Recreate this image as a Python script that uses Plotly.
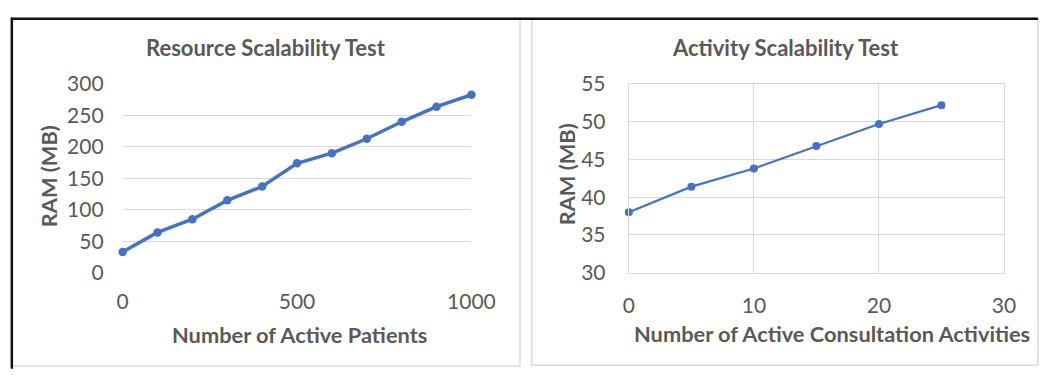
import plotly.graph_objects as go

# Resource scalability: RAM vs number of active patients
patients = [0, 100, 200, 300, 400, 500, 600, 700, 800, 900, 1000]
ram_patients = [33, 64, 85, 115, 137, 174, 190, 213, 240, 264, 283]

# Activity scalability: RAM vs number of active consultation activities
activities = [0, 5, 10, 15, 20, 25]
ram_activities = [38.0, 41.4, 43.8, 46.8, 49.7, 52.2]

W, H = 1060, 378
FONT = "Lato"
TEXT = "#595959"
GRID = "#d9d9d9"
BLUE = "#4472C4"


def px_x(p):
    return p / W


def px_y(p):
    return 1 - p / H


fig = go.Figure()

fig.add_trace(go.Scatter(
    x=patients, y=ram_patients, mode="lines+markers",
    line=dict(color=BLUE, width=3.5), marker=dict(color=BLUE, size=8.5),
    xaxis="x", yaxis="y", showlegend=False, cliponaxis=False,
))
fig.add_trace(go.Scatter(
    x=activities, y=ram_activities, mode="lines+markers",
    line=dict(color=BLUE, width=2.2), marker=dict(color=BLUE, size=8),
    xaxis="x2", yaxis="y2", showlegend=False, cliponaxis=False,
))

tick_font = dict(family=FONT, size=21, color=TEXT)
ydom = [px_y(277), px_y(75)]

fig.update_layout(
    width=W, height=H, autosize=False,
    margin=dict(l=0, r=0, t=0, b=0),
    paper_bgcolor="white", plot_bgcolor="white",
    xaxis=dict(domain=[px_x(120), px_x(479)], range=[0, 1000], dtick=500,
               showgrid=False, zeroline=False, showline=False,
               tickfont=tick_font, ticklabelstandoff=14, anchor="y"),
    yaxis=dict(domain=ydom, range=[0, 300], dtick=50,
               showgrid=True, gridcolor=GRID, gridwidth=1.3, zeroline=False,
               showline=False, tickfont=tick_font, ticklabelstandoff=18,
               anchor="x"),
    xaxis2=dict(domain=[px_x(641), px_x(1027)], range=[0, 30], dtick=10,
                showgrid=True, gridcolor=GRID, gridwidth=1.3, zeroline=False,
                showline=True, linecolor=GRID, linewidth=1.3, mirror=True,
                tickfont=tick_font, ticklabelstandoff=14, anchor="y2"),
    yaxis2=dict(domain=ydom, range=[30, 55], dtick=5,
                showgrid=True, gridcolor=GRID, gridwidth=1.3, zeroline=False,
                showline=True, linecolor=GRID, linewidth=1.3, mirror=True,
                tickfont=tick_font, ticklabelstandoff=18, anchor="x2"),
)

# Panel frames and outer border
shapes = [
    dict(type="rect", xref="paper", yref="paper",
         x0=px_x(6), x1=px_x(529), y0=px_y(377), y1=px_y(5),
         line=dict(color=GRID, width=1.5)),
    dict(type="rect", xref="paper", yref="paper",
         x0=px_x(541), x1=px_x(1062), y0=px_y(376), y1=px_y(5),
         line=dict(color=GRID, width=1.5)),
    dict(type="line", xref="paper", yref="paper",
         x0=px_x(5), x1=px_x(1062), y0=px_y(5), y1=px_y(5),
         line=dict(color="#111111", width=2.5)),
    dict(type="line", xref="paper", yref="paper",
         x0=px_x(6), x1=px_x(6), y0=px_y(4), y1=px_y(380),
         line=dict(color="#111111", width=2.5)),
]
fig.update_layout(shapes=shapes)

bold = dict(family=FONT, size=22, color=TEXT)
axis_bold = dict(family=FONT, size=21.8, color=TEXT)
labels = [
    ("<b>Resource Scalability Test</b>", 268, 36, 0, bold),
    ("<b>Activity Scalability Test</b>", 802, 36, 0, bold),
    ("<b>Number of Active Patients</b>", 302, 343, 0, axis_bold),
    ("<b>Number of Active Consultation Activities</b>", 850, 342, 0, axis_bold),
    ("<b>RAM (MB)</b>", 44, 174, -90, axis_bold),
    ("<b>RAM (MB)</b>", 577, 172, -90, axis_bold),
]
fig.update_layout(annotations=[
    dict(text=t, x=px_x(x), y=px_y(y), xref="paper", yref="paper",
         xanchor="center", yanchor="middle", showarrow=False,
         textangle=a, font=f)
    for t, x, y, a, f in labels
])

fig.write_html("out.html")
